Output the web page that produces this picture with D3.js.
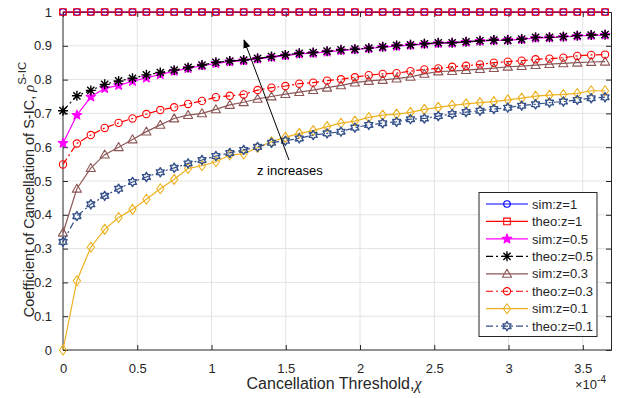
<!DOCTYPE html>
<html>
<head>
<meta charset="utf-8">
<script src="https://cdn.jsdelivr.net/npm/d3@7"></script>
<style>
  body { margin: 0; background: #fff; }
  text { font-family: "Liberation Sans", Arial, sans-serif; fill: #262626; }
</style>
</head>
<body>
<script>
// threshold values (x 1e-4), 40 points
var xs = d3.range(40).map(function(i) { return i * 3.65 / 39; });

var simZ1  = xs.map(function() { return 1; });
var theoZ1 = xs.map(function() { return 1; });
var simZ05 = [0.612,0.695,0.749,0.774,0.783,0.795,0.805,0.815,0.825,0.833,0.841,0.848,0.853,0.856,0.861,0.866,0.871,0.876,0.878,0.882,0.886,0.889,0.892,0.896,0.899,0.902,0.905,0.907,0.908,0.911,0.914,0.916,0.917,0.919,0.923,0.924,0.926,0.929,0.931,0.932];
var theoZ05 = [0.708,0.752,0.768,0.786,0.796,0.804,0.814,0.821,0.828,0.836,0.843,0.851,0.855,0.858,0.863,0.868,0.873,0.878,0.880,0.884,0.888,0.890,0.893,0.897,0.901,0.903,0.906,0.909,0.909,0.912,0.915,0.917,0.917,0.920,0.925,0.925,0.927,0.930,0.932,0.933];
var simZ03 = [0.347,0.477,0.538,0.578,0.600,0.623,0.646,0.666,0.685,0.695,0.700,0.712,0.725,0.733,0.743,0.750,0.757,0.763,0.769,0.776,0.783,0.791,0.796,0.799,0.803,0.808,0.817,0.824,0.825,0.828,0.831,0.834,0.838,0.840,0.843,0.846,0.848,0.850,0.852,0.853];
var theoZ03 = [0.549,0.611,0.636,0.657,0.672,0.685,0.698,0.710,0.718,0.728,0.737,0.748,0.752,0.756,0.769,0.776,0.781,0.788,0.791,0.797,0.801,0.807,0.813,0.817,0.819,0.825,0.830,0.833,0.838,0.841,0.845,0.850,0.853,0.856,0.860,0.862,0.865,0.870,0.873,0.874];
var simZ01 = [0,0.205,0.304,0.357,0.392,0.416,0.446,0.477,0.505,0.537,0.545,0.557,0.577,0.580,0.599,0.616,0.629,0.641,0.649,0.661,0.671,0.677,0.688,0.695,0.698,0.703,0.712,0.718,0.724,0.728,0.732,0.735,0.740,0.745,0.751,0.754,0.756,0.759,0.767,0.767];
var theoZ01 = [0.320,0.396,0.431,0.456,0.477,0.497,0.512,0.526,0.539,0.552,0.562,0.574,0.583,0.592,0.601,0.613,0.619,0.626,0.636,0.641,0.646,0.658,0.666,0.671,0.675,0.683,0.685,0.692,0.698,0.704,0.708,0.713,0.717,0.723,0.727,0.732,0.735,0.740,0.745,0.748];

var xTicks = [0, 0.5, 1, 1.5, 2, 2.5, 3, 3.5];
var yTicks = [0, 0.1, 0.2, 0.3, 0.4, 0.5, 0.6, 0.7, 0.8, 0.9, 1];

var series = [
  {name: "sim:z=1",    vals: simZ1,   color: "#0000ff", dash: null,            marker: "circle"},
  {name: "theo:z=1",   vals: theoZ1,  color: "#ff0000", dash: null,            marker: "square"},
  {name: "sim:z=0.5",  vals: simZ05,  color: "#ff00ff", dash: null,            marker: "pentagram"},
  {name: "theo:z=0.5", vals: theoZ05, color: "#000000", dash: "7,3,2,3",       marker: "asterisk"},
  {name: "sim:z=0.3",  vals: simZ03,  color: "#8c5656", dash: null,            marker: "triangle"},
  {name: "theo:z=0.3", vals: theoZ03, color: "#ff0000", dash: "7,3,2,3",       marker: "circle2"},
  {name: "sim:z=0.1",  vals: simZ01,  color: "#edb120", dash: null,            marker: "diamond"},
  {name: "theo:z=0.1", vals: theoZ01, color: "#34508a", dash: "7,3,2,3",       marker: "hexagram"}
];

var W = 624, H = 398;
var margin = {left: 63, right: 13, top: 12, bottom: 48};
var width = W - margin.left - margin.right,
    height = H - margin.top - margin.bottom;

var svg = d3.select("body").append("svg")
    .attr("width", W)
    .attr("height", H);

var x = d3.scaleLinear().domain([0, 3.69]).range([margin.left, margin.left + width]);
var y = d3.scaleLinear().domain([0, 1]).range([margin.top + height, margin.top]);

// grid
svg.append("g").selectAll("line.gx").data(xTicks.slice(1)).enter().append("line")
    .attr("x1", d => x(d)).attr("x2", d => x(d))
    .attr("y1", y(0)).attr("y2", y(1))
    .attr("stroke", "#e3e3e3").attr("stroke-width", 1);
svg.append("g").selectAll("line.gy").data(yTicks.slice(1)).enter().append("line")
    .attr("x1", x(0)).attr("x2", x.range()[1])
    .attr("y1", d => y(d)).attr("y2", d => y(d))
    .attr("stroke", "#e3e3e3").attr("stroke-width", 1);

// axes (MATLAB style, ticks inward, box)
var axC = "#262626";
var xAxis = svg.append("g").attr("transform", "translate(0," + y(0) + ")")
    .call(d3.axisBottom(x).tickValues(xTicks).tickSize(-5).tickPadding(14).tickFormat(d3.format("")));
var xTop = svg.append("g").attr("transform", "translate(0," + y(1) + ")")
    .call(d3.axisTop(x).tickValues(xTicks).tickSize(-5).tickFormat(""));
var yAxis = svg.append("g").attr("transform", "translate(" + x(0) + ",0)")
    .call(d3.axisLeft(y).tickValues(yTicks).tickSize(-5).tickPadding(11).tickFormat(d3.format("")));
var yRight = svg.append("g").attr("transform", "translate(" + x.range()[1] + ",0)")
    .call(d3.axisRight(y).tickValues(yTicks).tickSize(-5).tickFormat(""));
[xAxis, xTop, yAxis, yRight].forEach(function(g) {
  g.select(".domain").attr("stroke", axC).attr("stroke-width", 1);
  g.selectAll(".tick line").attr("stroke", axC);
  g.selectAll(".tick text").attr("fill", axC).style("font-size", "13px")
    .style("font-family", "'Liberation Sans', Arial, sans-serif");
});
xAxis.selectAll(".domain").attr("d", "M" + x.range()[0] + ",0H" + x.range()[1]);
yAxis.selectAll(".domain").attr("d", "M0," + y(0) + "V" + y(1));

// marker shapes
function starPath(n, ro, ri) {
  var p = [];
  for (var k = 0; k < 2 * n; k++) {
    var r = k % 2 === 0 ? ro : ri;
    var a = -Math.PI / 2 + k * Math.PI / n;
    p.push((r * Math.cos(a)).toFixed(2) + "," + (r * Math.sin(a)).toFixed(2));
  }
  return "M" + p.join("L") + "Z";
}
function markerPath(type) {
  switch (type) {
    case "circle": return d3.symbol(d3.symbolCircle, 34)();
    case "circle2": return d3.symbol(d3.symbolCircle, 42)();
    case "square": return d3.symbol(d3.symbolSquare, 44)();
    case "pentagram": return starPath(5, 5, 2.1);
    case "triangle": return "M0,-4.6L4.6,3.4L-4.6,3.4Z";
    case "diamond": return "M0,-5L3.6,0L0,5L-3.6,0Z";
    case "asterisk":
      return "M-5,0L5,0M0,-5L0,5M-3.6,-3.6L3.6,3.6M-3.6,3.6L3.6,-3.6";
    case "hexagram": return starPath(6, 4.6, 2.7);
  }
}
function styleMarker(sel, s) {
  sel.attr("d", markerPath(s.marker))
    .attr("stroke", s.color)
    .attr("stroke-width", s.marker === "asterisk" ? 1.4 : (s.marker === "hexagram" ? 1.4 : 1.1))
    .attr("stroke-linejoin", "round")
    .attr("fill", s.marker === "pentagram" ? s.color : "none");
}

var line = d3.line().x((d, i) => x(xs[i])).y(d => y(d));

series.forEach(function(s) {
  var g = svg.append("g");
  g.append("path").datum(s.vals)
    .attr("d", line)
    .attr("fill", "none")
    .attr("stroke", s.color)
    .attr("stroke-width", 1.2)
    .attr("stroke-dasharray", s.dash);
  g.selectAll("path.m").data(s.vals).enter().append("path")
    .attr("class", "m")
    .attr("transform", (d, i) => "translate(" + x(xs[i]) + "," + y(d) + ")")
    .call(styleMarker, s);
});

// annotation arrow
var defs = svg.append("defs");
defs.append("marker").attr("id", "ah")
  .attr("viewBox", "0 0 10 10").attr("refX", 9).attr("refY", 5)
  .attr("markerWidth", 9).attr("markerHeight", 9).attr("orient", "auto")
  .attr("markerUnits", "userSpaceOnUse")
  .append("path").attr("d", "M0,1L10,5L0,9Z").attr("fill", "#000");
svg.append("line")
  .attr("x1", 289).attr("y1", 160).attr("x2", 244).attr("y2", 40)
  .attr("stroke", "#000").attr("stroke-width", 1)
  .attr("marker-end", "url(#ah)");
svg.append("text").attr("x", 257).attr("y", 175)
  .style("font-size", "13px").style("fill", "#000").text("z increases");

// axis labels
var xl = svg.append("text")
  .attr("x", 334).attr("y", 389)
  .attr("text-anchor", "middle")
  .style("font-size", "16px");
xl.append("tspan").text("Cancellation Threshold,");
xl.append("tspan").style("font-family", "'Liberation Serif', 'Times New Roman', serif")
  .style("font-style", "italic").text("χ");

var ex = svg.append("text").attr("x", 575).attr("y", 389).style("font-size", "13px");
ex.append("tspan").text("×10");
ex.append("tspan").attr("dy", -6).style("font-size", "10px").text("-4");

var yl = svg.append("text")
  .attr("transform", "translate(34," + 189.5 + ") rotate(-90)")
  .attr("text-anchor", "middle")
  .style("font-size", "14.5px");
yl.append("tspan").text("Coefficient of Cancellation of S-IC, ");
yl.append("tspan").style("font-family", "'Liberation Serif', 'Times New Roman', serif")
  .style("font-style", "italic").text("ρ");
yl.append("tspan").attr("dy", -8).style("font-size", "11.5px").text("S-IC");

// legend
var lg = svg.append("g");
lg.append("rect").attr("x", 479).attr("y", 192.5).attr("width", 118).attr("height", 144)
  .attr("fill", "#fff").attr("stroke", axC).attr("stroke-width", 1);
series.forEach(function(s, i) {
  var ly = 204 + i * 17.45;
  lg.append("line").attr("x1", 486).attr("x2", 528).attr("y1", ly).attr("y2", ly)
    .attr("stroke", s.color).attr("stroke-width", 1.2).attr("stroke-dasharray", s.dash);
  lg.append("path").attr("transform", "translate(507," + ly + ")").call(styleMarker, s);
  lg.append("text").attr("x", 532).attr("y", ly).attr("dy", "0.36em")
    .style("font-size", "13px").text(s.name);
});
</script>
</body>
</html>
